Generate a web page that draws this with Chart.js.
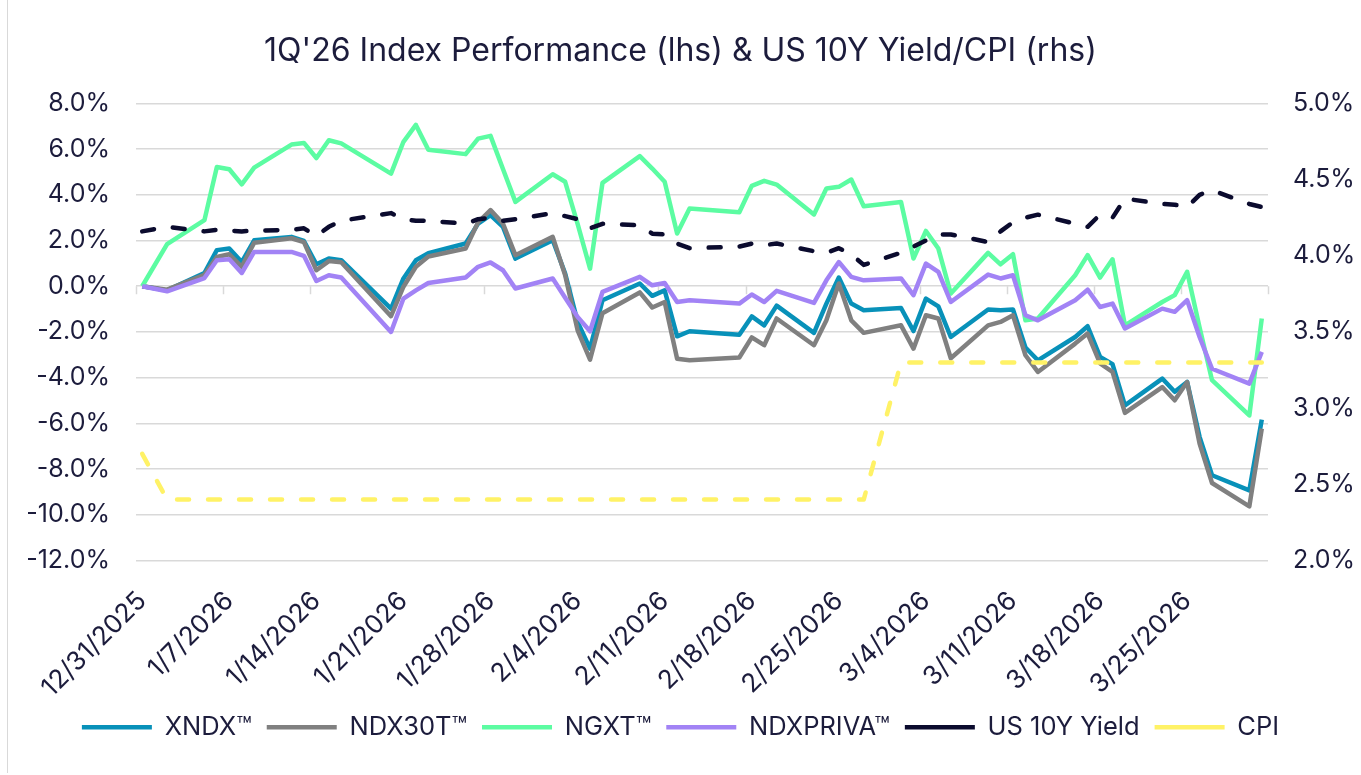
<!DOCTYPE html>
<html>
<head>
<meta charset="utf-8">
<script src="https://cdn.jsdelivr.net/npm/chart.js@4.4.1/dist/chart.umd.min.js"></script>
<style>
  html, body { margin: 0; padding: 0; background: #ffffff; }
  #wrap { position: relative; width: 1361px; height: 775px; overflow: hidden; }
  #frame { position: absolute; left: 7px; top: 0; width: 1400px; height: 773px; border-left: 1.5px solid #D9D9D9; pointer-events: none; }
  canvas { display: block; }
</style>
</head>
<body>
<div id="wrap">
  <canvas id="c" width="1361" height="775"></canvas>
  <div id="frame"></div>
</div>
<script>
// ---- Data ----
const dates = [
  '2025-12-31','2026-01-02',
  '2026-01-05','2026-01-06','2026-01-07','2026-01-08','2026-01-09',
  '2026-01-12','2026-01-13','2026-01-14','2026-01-15','2026-01-16',
  '2026-01-20','2026-01-21','2026-01-22','2026-01-23',
  '2026-01-26','2026-01-27','2026-01-28','2026-01-29','2026-01-30',
  '2026-02-02','2026-02-03','2026-02-04','2026-02-05','2026-02-06',
  '2026-02-09','2026-02-10','2026-02-11','2026-02-12','2026-02-13',
  '2026-02-17','2026-02-18','2026-02-19','2026-02-20',
  '2026-02-23','2026-02-24','2026-02-25','2026-02-26','2026-02-27',
  '2026-03-02','2026-03-03','2026-03-04','2026-03-05','2026-03-06',
  '2026-03-09','2026-03-10','2026-03-11','2026-03-12','2026-03-13',
  '2026-03-16','2026-03-17','2026-03-18','2026-03-19','2026-03-20',
  '2026-03-23','2026-03-24','2026-03-25','2026-03-26','2026-03-27',
  '2026-03-30','2026-03-31'
];

const xndx = [
  0, -0.18,
  0.58, 1.58, 1.65, 1.06, 2.01,
  2.16, 1.98, 0.96, 1.21, 1.14,
  -0.98, 0.34, 1.14, 1.45,
  1.87, 2.74, 3.11, 2.60, 1.21,
  2.01, 0.56, -1.56, -2.73, -0.61,
  0.12, -0.42, -0.18, -2.19, -1.97,
  -2.12, -1.32, -1.71, -0.85,
  -2.04, -0.76, 0.38, -0.76, -1.05,
  -0.95, -1.96, -0.54, -0.88, -2.22,
  -1.02, -1.05, -1.02, -2.68, -3.24,
  -2.22, -1.75, -3.09, -3.41, -5.21,
  -4.04, -4.62, -4.19, -6.59, -8.27,
  -8.93, -5.84
];

const ndx30t = [
  0, -0.15,
  0.50, 1.28, 1.40, 0.85, 1.90,
  2.10, 1.93, 0.70, 1.10, 1.05,
  -1.31, -0.02, 0.85, 1.30,
  1.65, 2.80, 3.33, 2.74, 1.36,
  2.16, 0.48, -1.93, -3.21, -1.18,
  -0.27, -0.93, -0.69, -3.17, -3.24,
  -3.12, -2.24, -2.58, -1.41,
  -2.58, -1.49, 0.12, -1.49, -2.04,
  -1.71, -2.73, -1.27, -1.41, -3.15,
  -1.71, -1.56, -1.27, -3.02, -3.75,
  -2.51, -2.07, -3.38, -3.75, -5.54,
  -4.41, -4.99, -4.19, -6.88, -8.61,
  -9.63, -6.23
];

const ngxt = [
  0, 1.84,
  2.89, 5.22, 5.12, 4.46, 5.19,
  6.20, 6.27, 5.61, 6.39, 6.25,
  4.93, 6.32, 7.06, 5.97,
  5.78, 6.46, 6.58, 5.13, 3.69,
  4.90, 4.57, 2.73, 0.77, 4.52,
  5.69, 5.15, 4.57, 2.31, 3.40,
  3.24, 4.39, 4.61, 4.45,
  3.14, 4.28, 4.35, 4.67, 3.50,
  3.69, 1.21, 2.42, 1.65, -0.32,
  1.46, 0.96, 1.40, -1.49, -1.41,
  0.48, 1.36, 0.38, 1.18, -1.71,
  -0.69, -0.39, 0.63, -1.80, -4.11,
  -5.65, -1.41
];

const ndxpriva = [
  0, -0.22,
  0.36, 1.14, 1.18, 0.58, 1.50,
  1.50, 1.33, 0.23, 0.48, 0.38,
  -2.00, -0.54, -0.18, 0.14,
  0.38, 0.85, 1.04, 0.70, -0.10,
  0.34, -0.50, -1.34, -1.97, -0.25,
  0.41, 0.04, 0.14, -0.69, -0.61,
  -0.76, -0.36, -0.69, -0.20,
  -0.73, 0.26, 1.06, 0.41, 0.26,
  0.34, -0.39, 0.99, 0.63, -0.69,
  0.51, 0.34, 0.48, -1.27, -1.49,
  -0.61, -0.15, -0.91, -0.76, -1.85,
  -0.98, -1.12, -0.61, -2.22, -3.61,
  -4.26, -2.87
];

const us10y = [
  4.16, 4.19,
  4.16, 4.17, 4.165, 4.16, 4.165,
  4.17, 4.18, 4.13, 4.19, 4.23,
  4.28, 4.24, 4.23, 4.23,
  4.21, 4.24, 4.25, 4.23, 4.24,
  4.28, 4.26, 4.24, 4.18, 4.21,
  4.20, 4.145, 4.14, 4.08, 4.05,
  4.06, 4.08, 4.07, 4.08,
  4.03, 4.02, 4.05, 4.01, 3.94,
  4.02, 4.06, 4.10, 4.14, 4.14,
  4.09, 4.16, 4.22, 4.25, 4.27,
  4.21, 4.19, 4.27, 4.25, 4.375,
  4.34, 4.335, 4.32, 4.40, 4.43,
  4.34, 4.32
];

const cpi = [
  2.7, 2.4,
  2.4, 2.4, 2.4, 2.4, 2.4,
  2.4, 2.4, 2.4, 2.4, 2.4,
  2.4, 2.4, 2.4, 2.4,
  2.4, 2.4, 2.4, 2.4, 2.4,
  2.4, 2.4, 2.4, 2.4, 2.4,
  2.4, 2.4, 2.4, 2.4, 2.4,
  2.4, 2.4, 2.4, 2.4,
  2.4, 2.4, 2.4, 2.4, 2.4,
  3.3, 3.3, 3.3, 3.3, 3.3,
  3.3, 3.3, 3.3, 3.3, 3.3,
  3.3, 3.3, 3.3, 3.3, 3.3,
  3.3, 3.3, 3.3, 3.3, 3.3,
  3.3, 3.3
];

const xTickLabels = [
  '12/31/2025','1/7/2026','1/14/2026','1/21/2026','1/28/2026','2/4/2026','2/11/2026',
  '2/18/2026','2/25/2026','3/4/2026','3/11/2026','3/18/2026','3/25/2026'
];

const seriesNames = ['XNDX\u2122','NDX30T\u2122','NGXT\u2122','NDXPRIVA\u2122','US 10Y Yield','CPI'];

// ---- Helpers ----
const DAY = 86400000;
const t0 = Date.UTC(2025, 11, 31);
const dayIndex = dates.map(s => {
  const [y, m, d] = s.split('-').map(Number);
  return Math.round((Date.UTC(y, m - 1, d) - t0) / DAY);
});
const pts = arr => arr.map((v, i) => ({ x: dayIndex[i], y: v }));
const lastDay = dayIndex[dayIndex.length - 1];

const TEXT = '#1C1C3C';
const GRID = '#D9D9D9';
const FONT = 'Inter, "Open Sans", sans-serif';

// week boundary tick marks on the zero line
const tickMarks = {
  id: 'tickMarks',
  beforeDatasetsDraw(chart) {
    const { ctx, scales: { x, y } } = chart;
    const y0 = y.getPixelForValue(0);
    ctx.save();
    ctx.strokeStyle = GRID;
    ctx.lineWidth = 1.5;
    for (let v = x.min; v <= x.max + 0.01; v += 7) {
      const px = Math.round(x.getPixelForValue(v)) + 0.5;
      ctx.beginPath();
      ctx.moveTo(px, y0);
      ctx.lineTo(px, y0 + 8);
      ctx.stroke();
    }
    ctx.restore();
  }
};

const common = { pointRadius: 0, pointHoverRadius: 0, fill: false, tension: 0, borderJoinStyle: 'round' };

new Chart(document.getElementById('c'), {
  type: 'line',
  data: {
    datasets: [
      { ...common, label: seriesNames[0], data: pts(xndx), borderColor: '#0891B9', backgroundColor: '#0891B9', borderWidth: 4.5, yAxisID: 'y', order: 6 },
      { ...common, label: seriesNames[1], data: pts(ndx30t), borderColor: '#808080', backgroundColor: '#808080', borderWidth: 4.5, yAxisID: 'y', order: 5 },
      { ...common, label: seriesNames[2], data: pts(ngxt), borderColor: '#5CFCA2', backgroundColor: '#5CFCA2', borderWidth: 4.5, yAxisID: 'y', order: 4 },
      { ...common, label: seriesNames[3], data: pts(ndxpriva), borderColor: '#A283F5', backgroundColor: '#A283F5', borderWidth: 4.5, yAxisID: 'y', order: 3 },
      { ...common, label: seriesNames[4], data: pts(us10y), borderColor: '#0B0B2E', backgroundColor: '#0B0B2E', borderWidth: 4.5, borderDash: [12, 19], borderCapStyle: 'round', yAxisID: 'y1', order: 2 },
      { ...common, label: seriesNames[5], data: pts(cpi), borderColor: '#FFF266', backgroundColor: '#FFF266', borderWidth: 4.5, borderDash: [12, 19], borderCapStyle: 'round', yAxisID: 'y1', order: 1 }
    ]
  },
  options: {
    responsive: false,
    animation: false,
    events: [],
    layout: { padding: { top: 0, left: 0, right: 0, bottom: 25 } },
    plugins: {
      tooltip: { enabled: false },
      title: {
        display: true,
        text: "1Q'26 Index Performance (lhs) & US 10Y Yield/CPI (rhs)",
        color: TEXT,
        font: { family: FONT, size: 32, weight: '400' },
        padding: { top: 32, bottom: 33 }
      },
      legend: {
        position: 'bottom',
        labels: {
          color: TEXT,
          font: { family: FONT, size: 25.5 },
          usePointStyle: true,
          pointStyle: 'line',
          pointStyleWidth: 70,
          boxHeight: 24,
          padding: 15,
          sort: (a, b) => a.datasetIndex - b.datasetIndex
        }
      }
    },
    scales: {
      x: {
        type: 'linear',
        min: -0.5,
        max: lastDay + 0.5,
        grid: { display: false },
        border: { display: false },
        afterBuildTicks: s => { s.ticks = xTickLabels.map((_, k) => ({ value: 7 * k })); },
        afterFit: s => { s.height = 139; },
        ticks: {
          autoSkip: false,
          minRotation: 45,
          maxRotation: 45,
          padding: 17,
          color: TEXT,
          font: { family: FONT, size: 26 },
          callback: (v, i) => xTickLabels[i]
        }
      },
      y: {
        position: 'left',
        min: -12,
        max: 8,
        grid: { color: GRID, lineWidth: 1.5, drawTicks: false },
        border: { display: false },
        afterFit: s => { s.width = 136; },
        ticks: {
          stepSize: 2,
          padding: 26,
          color: TEXT,
          font: { family: FONT, size: 25 },
          callback: v => v.toFixed(1) + '%'
        }
      },
      y1: {
        position: 'right',
        min: 2,
        max: 5,
        grid: { display: false, drawTicks: false },
        border: { display: false },
        afterFit: s => { s.width = 93; },
        ticks: {
          stepSize: 0.5,
          padding: 25,
          color: TEXT,
          font: { family: FONT, size: 25 },
          callback: v => v.toFixed(1) + '%'
        }
      }
    }
  },
  plugins: [tickMarks]
});
</script>
</body>
</html>
